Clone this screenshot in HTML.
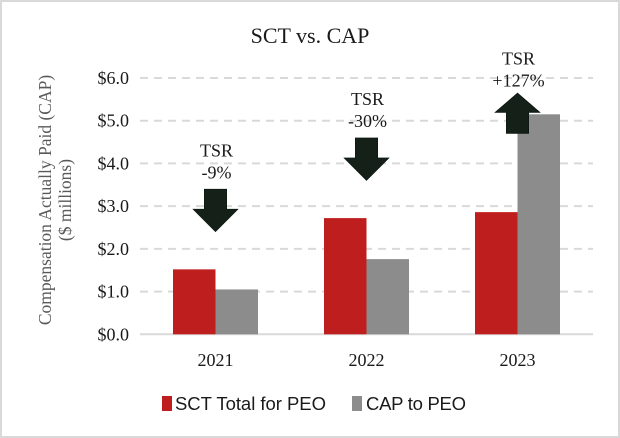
<!DOCTYPE html>
<html><head><meta charset="utf-8"><style>
body{margin:0;background:#fff}
svg{display:block}
text{font-family:"Liberation Serif",serif;fill:#1a1a1a}
</style></head><body>
<svg width="620" height="438" id="chart">
<rect x="1" y="1" width="618" height="436" fill="#fff" stroke="#d9d9d9" stroke-width="2"/>
<text x="310" y="43" font-size="22" text-anchor="middle">SCT vs. CAP</text>
<g transform="translate(51,200) rotate(-90)">
<text x="0" y="0" font-size="17.5" text-anchor="middle" style="fill:#595959">Compensation Actually Paid (CAP)</text>
<text x="0" y="20" font-size="17.5" text-anchor="middle" style="fill:#595959">($ millions)</text>
</g>
<g id="grid"></g><g id="bars"></g><g id="labels"></g>
<rect x="162" y="396" width="10" height="15" fill="#bf1e1e"/>
<text x="175" y="410" font-size="18.5" textLength="151" style="font-family:'Liberation Sans',sans-serif">SCT Total for PEO</text>
<rect x="352" y="396" width="10" height="15" fill="#8c8c8c"/>
<text x="366" y="410" font-size="18.5" textLength="100" style="font-family:'Liberation Sans',sans-serif">CAP to PEO</text>
</svg>
<script>
const categories=["2021","2022","2023"];
const sctValues=[1.52,2.72,2.86];
const capValues=[1.05,1.76,5.15];
const yTicks=[0,1,2,3,4,5,6];
const tsrLabels=["-9%","-30%","+127%"];
const tsrUp=[false,false,true];
const NS="http://www.w3.org/2000/svg";
const x0=140,x1=593,yBase=334.3,yTop=78;
const y=v=>yBase-(yBase-yTop)*v/6;
const band=(x1-x0)/categories.length;
const cx=i=>x0+band*(i+0.5);
function mk(tag,attrs,parent,txt){const e=document.createElementNS(NS,tag);for(const k in attrs)e.setAttribute(k,attrs[k]);if(txt!==undefined)e.textContent=txt;document.getElementById(parent).appendChild(e);return e;}
yTicks.forEach(t=>{
  const l=mk('line',{x1:x0,x2:x1,y1:y(t),y2:y(t),stroke:'#d9d9d9','stroke-width':2,'stroke-dasharray':t===0?'':'8,6'},'grid');
  
  
  const tx=mk('text',{x:129,y:y(t)+6,'font-size':18,'text-anchor':'end'},'labels','$'+t.toFixed(1));
  
  
});
const bw=42.5;
categories.forEach((c,i)=>{
  const c0=cx(i);
  const r=mk('rect',{x:c0-bw,y:y(sctValues[i]),width:bw,height:yBase-y(sctValues[i]),fill:'#bf1e1e'},'bars');
  
  
  const g=mk('rect',{x:c0,y:y(capValues[i]),width:bw,height:yBase-y(capValues[i]),fill:'#8c8c8c'},'bars');
  
  
  const xl=mk('text',{x:c0,y:366,'font-size':18,'text-anchor':'middle'},'labels',c);
  
  
  const top=Math.max(sctValues[i],capValues[i]);
  let pts,ty;
  if(tsrUp[i]){
    const tip=y(top)-21,base=tip+19,bot=tip+40;
    pts=[[c0,tip],[c0+22,base],[c0+11,base],[c0+11,bot],[c0-11,bot],[c0-11,base],[c0-22,base]];
    ty=tip-29;
  }else{
    const tip=y(top)-38,base=tip-22,st=tip-42;
    pts=[[c0,tip],[c0+22,base],[c0+11,base],[c0+11,st],[c0-11,st],[c0-11,base],[c0-22,base]];
    ty=st-33;
  }
  const a=mk('polygon',{points:pts.map(p=>p.join(',')).join(' '),fill:'#152018',stroke:'#0d1a12','stroke-width':1},'labels');
  
  
  const t1=mk('text',{x:c0+1,y:ty,'font-size':18,'text-anchor':'middle'},'labels','TSR');
  
  
  const t2=mk('text',{x:c0+1,y:ty+22,'font-size':18,'text-anchor':'middle'},'labels',tsrLabels[i]);
  
  
});
</script>
</body></html>
